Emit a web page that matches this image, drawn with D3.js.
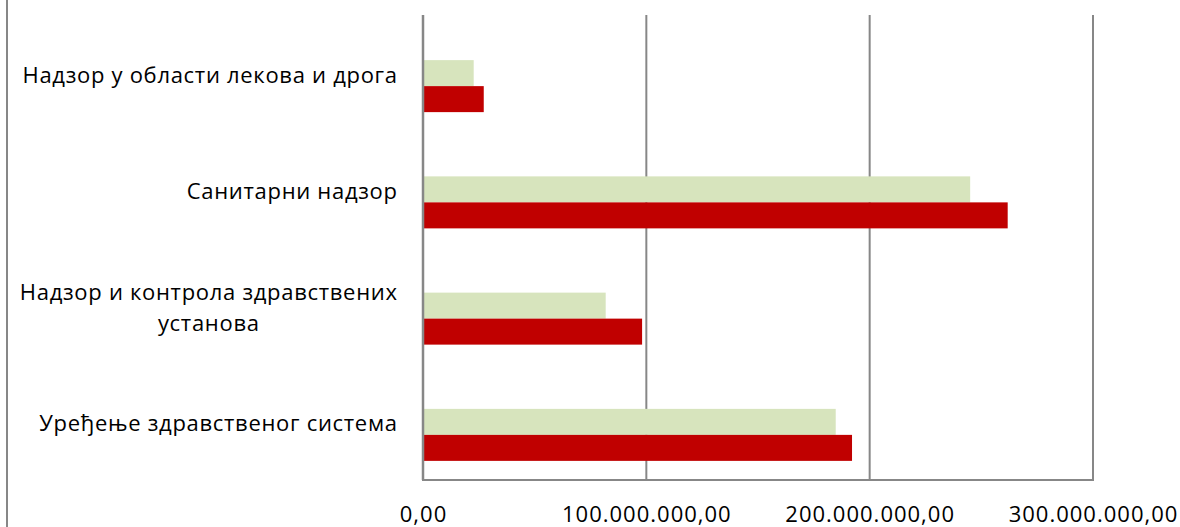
<!DOCTYPE html>
<html><head><meta charset="utf-8">
<script src="https://cdn.jsdelivr.net/npm/d3@7"></script>
<style>body{margin:0;background:#fff}svg{display:block}</style>
</head><body>
<svg id="c" width="1180" height="527"></svg>
<script>
const categories = ["Надзор у области лекова  и дрога", "Санитарни надзор", "Надзор и контрола здравствених установа", "Уређење  здравственог  система"];
const categoryLines = [["Надзор у области лекова  и дрога"], ["Санитарни надзор"], ["Надзор и контрола здравствених", "установа"], ["Уређење  здравственог  система"]];
const seriesGreen = [22700000, 245000000, 81800000, 184800000];
const seriesRed = [27200000, 261800000, 98100000, 192100000];
const tickValues = [0, 100000000, 200000000, 300000000];
const tickLabels = ["0,00", "100.000.000,00", "200.000.000,00", "300.000.000,00"];

(function(){
const svg = d3.select("#c");
const pL = 423, pR = 1093, pT = 15, pB = 480;
const font = "'Open Sans', sans-serif";

const x = d3.scaleLinear().domain([0, 300000000]).range([pL, pR]);
const y = d3.scaleBand().domain(categories).range([pT, pB]).paddingInner(38.25/116.25).paddingOuter(38.25/116.25/2);
// clustered slots: first slot empty as in the source layout
const inner = d3.scaleBand().domain([0, 1, 2]).range([0, y.bandwidth()]);

// left frame line
svg.append("line").attr("x1", 7).attr("x2", 7).attr("y1", 0).attr("y2", 527).attr("stroke", "#878787").attr("stroke-width", 2);

// gridlines
svg.append("g").selectAll("line").data(tickValues.slice(1)).join("line")
  .attr("x1", d => x(d)).attr("x2", d => x(d)).attr("y1", pT).attr("y2", pB)
  .attr("stroke", "#878787").attr("stroke-width", 2);

const series = [{vals: seriesGreen, color: "#D7E4BD", slot: 1}, {vals: seriesRed, color: "#C00000", slot: 2}];
series.forEach(s => {
  svg.append("g").selectAll("rect").data(categories).join("rect")
    .attr("x", x(0)).attr("y", (d) => y(d) + inner(s.slot))
    .attr("width", (d, i) => x(s.vals[i]) - x(0)).attr("height", inner.bandwidth())
    .attr("fill", s.color);
});

// axes lines
svg.append("line").attr("x1", x(0)).attr("x2", x(0)).attr("y1", pT).attr("y2", pB).attr("stroke", "#878787").attr("stroke-width", 2.5);
svg.append("line").attr("x1", x(0) - 1).attr("x2", pR + 1).attr("y1", pB).attr("y2", pB).attr("stroke", "#878787").attr("stroke-width", 2);

// tick labels
const ls = 1;
svg.append("g").selectAll("text").data(tickValues).join("text")
  .attr("x", d => x(d) + ls / 2).attr("y", 522).attr("text-anchor", "middle")
  .attr("font-family", font).attr("font-size", 22).attr("letter-spacing", ls).attr("fill", "#000")
  .text((d, i) => tickLabels[i]);

// category labels
const lblG = svg.append("g");
const cls = 0.7;
categories.forEach((c, i) => {
  const lines = categoryLines[i];
  const cy = y(c) + y.bandwidth() / 2;
  const t = lblG.append("text").attr("font-family", font).attr("font-size", 22).attr("letter-spacing", cls).attr("fill", "#000");
  const lh = 31;
  lines.forEach((l) => { t.append("tspan").text(l); });
  const widths = [];
  t.selectAll("tspan").each(function(){ widths.push(this.getComputedTextLength()); });
  const maxW = d3.max(widths);
  const blockRight = 397 + cls;
  const cx = blockRight - maxW / 2;
  const y0 = cy + 9.5 - (lines.length - 1) * lh / 2;
  t.attr("text-anchor", "middle");
  t.selectAll("tspan").attr("x", cx).attr("y", (d, j) => y0 + j * lh);
});
})();
</script>
</body></html>
